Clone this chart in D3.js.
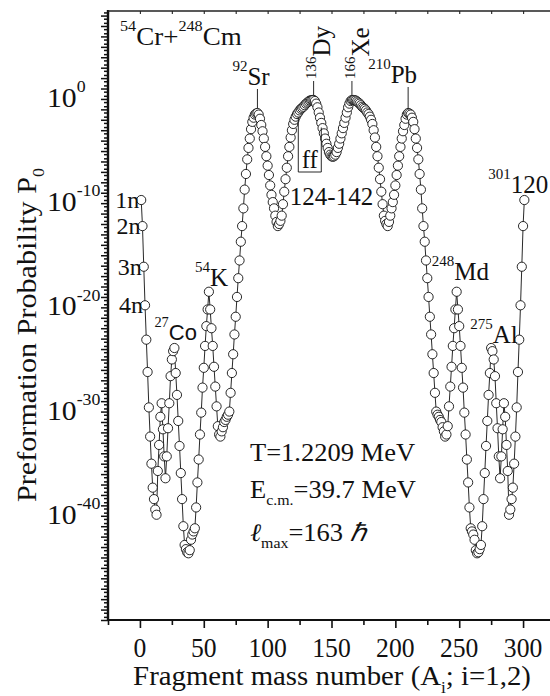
<!DOCTYPE html>
<html>
<head>
<meta charset="utf-8">
<script src="https://cdn.jsdelivr.net/npm/d3@7"></script>
<style>
  body { margin: 0; background: #fff; }
  svg { display: block; }
</style>
</head>
<body>
<div id="chart"></div>
<script>
// fragment mass numbers A1 = 1 .. 301 (compound 302 = 54Cr + 248Cm)
const massNumbers = d3.range(1, 302);

// log10 P0, A = 1 .. 151
const logP0Light = [
  -9.7, -12.2, -16.1, -19.8, -23.1, -26.2, -29.6, -32.4, -35.0, -37.3,
  -38.4, -39.4, -39.9, -35.7, -33.2, -30.5, -29.2, -31.7, -34.3, -36.4,
  -34.3, -31.6, -29.2, -26.6, -25.0, -24.2, -23.9, -26.3, -28.4, -30.9,
  -33.3, -35.9, -38.4, -41.0, -42.8, -43.2, -43.5, -43.6, -43.3, -42.3,
  -41.8, -41.5, -41.2, -39.2, -36.8, -34.6, -32.2, -30.1, -27.7, -25.8,
  -23.7, -21.8, -20.2, -18.5, -20.2, -22.0, -23.7, -25.7, -27.6, -29.5,
  -31.4, -32.2, -32.4, -31.9, -31.5, -31.0, -30.8, -30.5, -30.3, -30.0,
  -28.2, -26.3, -24.5, -22.6, -20.9, -19.0, -17.2, -15.5, -13.7, -12.2,
  -10.5, -8.7, -7.2, -5.8, -4.7, -3.8, -2.9, -2.2, -1.8, -1.5,
  -1.4, -1.35, -1.5, -1.9, -2.5, -3.1, -3.8, -4.6, -5.5, -6.4,
  -7.3, -8.3, -9.2, -9.9, -10.5, -11.2, -11.8, -12.2, -12.0, -11.7,
  -11.2, -10.1, -8.9, -7.7, -6.6, -5.5, -4.6, -3.7, -3.0, -2.4,
  -2.0, -1.7, -1.45, -1.3, -1.1, -0.95, -0.85, -0.75, -0.6, -0.45,
  -0.35, -0.25, -0.16, -0.12, -0.1, -0.1, -0.2, -0.45, -0.8, -1.3,
  -1.8, -2.3, -2.8, -3.3, -3.8, -4.3, -4.7, -5.1, -5.35, -5.5,
  -5.55
];

// log10 P0, A = 152 .. 301
const logP0Heavy = [
  -5.5, -5.35, -5.1, -4.7, -4.3, -3.8, -3.3, -2.8, -2.3, -1.8,
  -1.3, -0.8, -0.45, -0.2, -0.1, -0.1, -0.12, -0.16, -0.25, -0.35,
  -0.45, -0.6, -0.75, -0.85, -0.95, -1.1, -1.3, -1.45, -1.7, -2.0,
  -2.4, -3.0, -3.7, -4.6, -5.5, -6.6, -7.7, -8.9, -10.1, -11.2,
  -11.7, -12.0, -12.2, -11.8, -11.2, -10.5, -9.9, -9.2, -8.3, -7.3,
  -6.4, -5.5, -4.6, -3.8, -3.1, -2.5, -1.9, -1.5, -1.35, -1.4,
  -1.5, -1.8, -2.2, -2.9, -3.8, -4.7, -5.8, -7.2, -8.7, -10.5,
  -12.2, -13.7, -15.5, -17.2, -19.0, -20.9, -22.6, -24.5, -26.3, -28.2,
  -30.0, -30.3, -30.5, -30.8, -31.0, -31.5, -31.9, -32.4, -32.2, -31.4,
  -29.5, -27.6, -25.7, -23.7, -22.0, -20.2, -18.5, -20.2, -21.8, -23.7,
  -25.8, -27.7, -30.1, -32.2, -34.6, -36.8, -39.2, -41.2, -41.5, -41.8,
  -42.3, -43.3, -43.6, -43.5, -43.2, -42.8, -41.0, -38.4, -35.9, -33.3,
  -30.9, -28.4, -26.3, -23.9, -24.2, -25.0, -26.6, -29.2, -31.6, -34.3,
  -36.4, -34.3, -31.7, -29.2, -30.5, -33.2, -35.7, -39.9, -39.4, -38.4,
  -37.3, -35.0, -32.4, -29.6, -26.2, -23.1, -19.8, -16.1, -12.2, -9.7
];

const xTickValues = [0, 50, 100, 150, 200, 250, 300];
const xMinorTicks = [-25, 25, 75, 125, 175, 225, 275, 325];
const yLabelExponents = [0, -10, -20, -30, -40];
const neutronLabels = ["1n", "2n", "3n", "4n"];
const ffRange = [124, 142];

const SERIF = "Liberation Serif";
const SANS = "Liberation Sans";
const width = 550, height = 696;

const points = massNumbers.map((a, i) => ({
  a: a,
  p: Math.pow(10, i < logP0Light.length ? logP0Light[i] : logP0Heavy[i - logP0Light.length])
}));

const svg = d3.select("#chart").append("svg").attr("width", width).attr("height", height);

const x = d3.scaleLinear().domain([-25, 325]).range([108, 555]);
const y = d3.scaleLog().domain([1e-50, 2.75e8]).range([620, 11]);

// text with superscripts / subscripts
function rich(parent, x0, y0, parts, opt = {}) {
  const size = opt.size || 26;
  const sx = opt.sx || 1.0;
  const t = parent.append("text")
    .attr("text-anchor", opt.anchor || "start")
    .style("font-family", opt.family || SERIF)
    .style("font-size", size + "px")
    .attr("fill", "#111");
  const place = s => t.attr("transform", `translate(${x0},${y0})${opt.rotate ? ` rotate(${opt.rotate})` : ""} scale(${s},1)`);
  place(sx);
  let shift = 0;
  parts.forEach(p => {
    const [str, kind, extra] = Array.isArray(p) ? p : [p, null, null];
    const off = kind === "sup" ? -0.55 * size : kind === "sub" ? 0.28 * size : 0;
    const ts = t.append("tspan").attr("dy", off - shift).text(str);
    if (kind === "sup" || kind === "sub") ts.style("font-size", (size * 0.6) + "px");
    if (extra) Object.entries(extra).forEach(([k, v]) => ts.style(k, v));
    shift = off;
  });
  if (opt.fit) place(opt.fit / t.node().getComputedTextLength());
  return t;
}

// axes
const bottomAxis = svg.append("g").attr("transform", "translate(0,620)");
bottomAxis.call(d3.axisBottom(x).tickValues(xTickValues).tickSize(8).tickFormat(""));
bottomAxis.call(g => g.append("g").call(d3.axisBottom(x).tickValues(xMinorTicks).tickSize(5).tickFormat("")));
bottomAxis.selectAll(".domain").remove();
bottomAxis.selectAll("line").attr("stroke", "#111").attr("stroke-width", 1.6);

const topAxis = svg.append("g").attr("transform", "translate(0,11)");
topAxis.call(d3.axisBottom(x).tickValues(xTickValues.concat(xMinorTicks)).tickSize(3).tickFormat(""));
topAxis.selectAll(".domain").remove();
topAxis.selectAll("line").attr("stroke", "#333").attr("stroke-width", 1.2);

const decades = d3.range(-50, 9);
const yMajor = decades.map(k => Math.pow(10, k));
const yMinor = decades.flatMap(k => [2, 5].map(m => m * Math.pow(10, k))).filter(v => v < 2.75e8);
const leftAxis = svg.append("g").attr("transform", "translate(108,0)");
leftAxis.call(d3.axisLeft(y).tickValues(yMajor).tickSize(7).tickFormat(""));
leftAxis.call(g => g.append("g").call(d3.axisLeft(y).tickValues(yMinor).tickSize(4).tickFormat("")));
leftAxis.selectAll(".domain").remove();
leftAxis.selectAll("line").attr("stroke", "#111").attr("stroke-width", 1.5);

svg.append("line").attr("x1", 108).attr("x2", 108).attr("y1", 10).attr("y2", 621)
  .attr("stroke", "#111").attr("stroke-width", 2.4);
svg.append("line").attr("x1", 107).attr("x2", width).attr("y1", 620).attr("y2", 620)
  .attr("stroke", "#111").attr("stroke-width", 2);
svg.append("line").attr("x1", 108).attr("x2", width).attr("y1", 11).attr("y2", 11)
  .attr("stroke", "#222").attr("stroke-width", 1.6);

// tick labels
xTickValues.forEach(v => rich(svg, x(v), 657, [String(v)], { anchor: "middle", size: 27, sx: 0.95 }));
yLabelExponents.forEach(k => rich(svg, 47, y(Math.pow(10, k)) + 8, ["10", [String(k), "sup"]], { size: 27, sx: 1.1 }));

// axis titles
rich(svg, 332, 685, ["Fragment mass number (A", ["i", "sub"], "; i=1,2)"], { anchor: "middle", size: 27, fit: 398 });
rich(svg, 36, 335, ["Preformation Probability P", ["0", "sub"]], { anchor: "middle", size: 27, rotate: -90, fit: 334 });

// curve and open circles
const plot = svg.append("g");
plot.append("path").datum(points)
  .attr("fill", "none").attr("stroke", "#111").attr("stroke-width", 0.9)
  .attr("d", d3.line().x(d => x(d.a)).y(d => y(d.p)));
plot.selectAll("circle").data(points).enter().append("circle")
  .attr("cx", d => x(d.a)).attr("cy", d => y(d.p)).attr("r", 4.6)
  .attr("fill", "#fff").attr("stroke", "#111").attr("stroke-width", 0.9);

const pAt = a => points[a - 1].p;

// reaction label
rich(svg, 120, 45, [["54", "sup"], "Cr+", ["248", "sup"], "Cm"], { size: 25, sx: 1.08 });

// neutron labels
neutronLabels.forEach((s, i) => rich(svg, x(i + 1) - 2, y(pAt(i + 1)) + 8, [s], { anchor: "end", size: 24 }));

// fragment labels with tie lines
const tie = (a, yTop) => svg.append("line")
  .attr("x1", x(a)).attr("x2", x(a)).attr("y1", yTop).attr("y2", y(pAt(a)) - 4.6)
  .attr("stroke", "#111").attr("stroke-width", 0.9);
tie(92, 89); tie(210, 87); tie(136, 81); tie(166, 81);

rich(svg, x(92) - 25, 85, [["92", "sup"], "Sr"], { size: 25 });
rich(svg, x(210) - 40, 83, [["210", "sup"], "Pb"], { size: 25 });
rich(svg, x(136) + 16, 79, [["136", "sup"], "Dy"], { size: 25, rotate: -90 });
rich(svg, x(166) + 17, 79, [["166", "sup"], "Xe"], { size: 25, rotate: -90 });
rich(svg, x(54) - 14, 286, [["54", "sup"], "K"], { size: 25 });
rich(svg, x(27) - 20, 340, [["27", "sup"], ["Co", null, { "font-family": SANS, "font-size": "22px" }]], { size: 24 });
rich(svg, x(248) - 25, 280, [["248", "sup"], "Md"], { size: 25 });
rich(svg, x(275) - 21, 343, [["275", "sup"], "Al"], { size: 25 });
rich(svg, x(301) - 36, 193, [["301", "sup"], "120"], { size: 25 });

// fission-fragment bracket
const ffBottom = 172;
svg.append("path")
  .attr("d", `M${x(ffRange[0])},${y(pAt(ffRange[0])) + 4.6}V${ffBottom}H${x(ffRange[1])}V${y(pAt(ffRange[1])) + 4.6}`)
  .attr("fill", "none").attr("stroke", "#111").attr("stroke-width", 0.9);
rich(svg, (x(ffRange[0]) + x(ffRange[1])) / 2, 168, ["ff"], { anchor: "middle", size: 25 });
rich(svg, x(150), 205, [`${ffRange[0]}-${ffRange[1]}`], { anchor: "middle", size: 25 });

// conditions
rich(svg, 250, 461, ["T=1.2209 MeV"], { size: 25, sx: 1.06 });
rich(svg, 250, 498, ["E", ["c.m.", "sub"], "=39.7 MeV"], { size: 25, sx: 1.06 });
rich(svg, 250, 541, [["\u2113", null, { "font-style": "italic" }], ["max", "sub"], "=163 ", ["\u210F", null, { "font-style": "italic" }]], { size: 25, sx: 1.06 });
</script>
</body>
</html>
